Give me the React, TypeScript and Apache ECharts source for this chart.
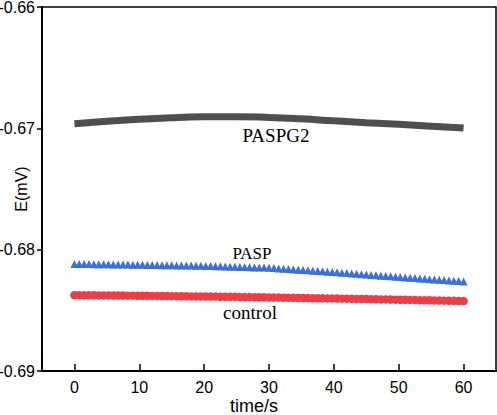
import React, { useEffect, useRef } from "react";
import * as echarts from "echarts";

const xTicks = [0, 10, 20, 30, 40, 50, 60];
const yTicks = [-0.69, -0.68, -0.67, -0.66];

// PASPG2 sampled every 5 s
const paspg2Times = [0, 5, 10, 15, 20, 25, 30, 35, 40, 45, 50, 55, 60];
const paspg2Values = [
  -0.66962, -0.66942, -0.66926, -0.66912, -0.66905, -0.66904, -0.6691,
  -0.66922, -0.66938, -0.66953, -0.66967, -0.66983, -0.66998,
];

// PASP and control sampled every 0.75 s (81 points)
const pasp = [
  -0.68118, -0.68118, -0.68119, -0.68119, -0.6812, -0.6812, -0.68121, -0.68121,
  -0.68122, -0.68122, -0.68123, -0.68123, -0.68124, -0.68125, -0.68125, -0.68126,
  -0.68126, -0.68127, -0.68128, -0.68128, -0.68129, -0.6813, -0.6813, -0.68131,
  -0.68131, -0.68132, -0.68133, -0.68134, -0.68135, -0.68136, -0.68137, -0.68138,
  -0.6814, -0.68141, -0.68142, -0.68143, -0.68144, -0.68146, -0.68147, -0.68148,
  -0.6815, -0.68152, -0.68155, -0.68157, -0.6816, -0.68163, -0.68165, -0.68168,
  -0.6817, -0.68173, -0.68176, -0.68178, -0.68181, -0.68184, -0.68187, -0.6819,
  -0.68193, -0.68196, -0.68199, -0.68202, -0.68205, -0.68208, -0.68211, -0.68214,
  -0.68217, -0.6822, -0.68223, -0.68226, -0.68229, -0.68232, -0.68234, -0.68237,
  -0.6824, -0.68243, -0.68245, -0.68248, -0.68251, -0.68254, -0.68256, -0.68259,
  -0.68262,
];
const control = [
  -0.68375, -0.68375, -0.68376, -0.68376, -0.68376, -0.68377, -0.68377, -0.68377,
  -0.68378, -0.68378, -0.68378, -0.68379, -0.68379, -0.6838, -0.6838, -0.6838,
  -0.68381, -0.68381, -0.68382, -0.68382, -0.68383, -0.68383, -0.68384, -0.68384,
  -0.68385, -0.68385, -0.68386, -0.68386, -0.68387, -0.68387, -0.68388, -0.68388,
  -0.68389, -0.68389, -0.6839, -0.68391, -0.68391, -0.68392, -0.68392, -0.68393,
  -0.68394, -0.68394, -0.68395, -0.68396, -0.68396, -0.68397, -0.68398, -0.68398,
  -0.68399, -0.684, -0.684, -0.68401, -0.68402, -0.68402, -0.68403, -0.68404,
  -0.68404, -0.68405, -0.68406, -0.68407, -0.68407, -0.68408, -0.68409, -0.6841,
  -0.6841, -0.68411, -0.68412, -0.68413, -0.68413, -0.68414, -0.68415, -0.68416,
  -0.68417, -0.68417, -0.68418, -0.68419, -0.6842, -0.68421, -0.68422, -0.68423,
  -0.68424,
];
const denseTimes = pasp.map((_, i) => i * 0.75);

const seriesLabels = ["PASPG2", "PASP", "control"];

export default function App() {
  const ref = useRef<HTMLDivElement>(null);
  useEffect(() => {
    if (!ref.current) return;
    const chart = echarts.init(ref.current, undefined, { renderer: "svg" });
    const axisFont = { fontFamily: "Liberation Sans, Arial", fontSize: 16, color: "#000" };
    const serif = "Liberation Serif, Times New Roman, serif";
    chart.setOption({
      animation: false,
      backgroundColor: "#fff",
      grid: {
        left: 42,
        right: 1,
        top: 7,
        bottom: 44,
        containLabel: false,
        outerBoundsMode: "none",
        show: true,
        borderColor: "#000",
        borderWidth: 1.5,
      },
      xAxis: {
        type: "value",
        min: -5,
        max: 65,
        name: "time/s",
        nameLocation: "middle",
        nameGap: 26,
        nameMoveOverlap: false,
        nameTextStyle: { ...axisFont, fontSize: 18, padding: [0, 30, 0, 0] },
        axisLine: { onZero: false, lineStyle: { color: "#000", width: 2 } },
        axisTick: {
          inside: true,
          length: 7,
          customValues: xTicks,
          lineStyle: { color: "#000", width: 1.5 },
        },
        axisLabel: { ...axisFont, margin: 8, customValues: xTicks },
        splitLine: { show: false },
      },
      yAxis: {
        type: "value",
        min: -0.69,
        max: -0.66,
        name: "E(mV)",
        nameLocation: "middle",
        nameRotate: 90,
        nameGap: 13,
        nameMoveOverlap: false,
        nameTextStyle: axisFont,
        axisLine: { onZero: false, lineStyle: { color: "#000", width: 2 } },
        axisTick: {
          inside: false,
          length: 5,
          customValues: yTicks,
          lineStyle: { color: "#000", width: 1.5 },
        },
        axisLabel: {
          ...axisFont,
          margin: 7,
          customValues: yTicks,
          formatter: (v: number) => v.toFixed(2),
        },
        splitLine: { show: false },
      },
      series: [
        {
          name: seriesLabels[0],
          type: "line",
          smooth: true,
          showSymbol: false,
          data: paspg2Times.map((t, i) => [t, paspg2Values[i]]),
          lineStyle: { color: "#4f4f4f", width: 7, cap: "butt" },
          itemStyle: { color: "#4f4f4f" },
        },
        {
          name: seriesLabels[1],
          type: "line",
          symbol: "triangle",
          symbolSize: 8,
          showSymbol: true,
          showAllSymbol: true,
          data: denseTimes.map((t, i) => [t, pasp[i]]),
          lineStyle: { width: 0 },
          itemStyle: { color: "#3b6fde" },
        },
        {
          name: seriesLabels[2],
          type: "line",
          symbol: "circle",
          symbolSize: 8.5,
          showSymbol: true,
          showAllSymbol: true,
          data: denseTimes.map((t, i) => [t, control[i]]),
          lineStyle: { width: 0 },
          itemStyle: { color: "#ef3d47" },
        },
      ],
      graphic: [
        {
          type: "text",
          x: 276,
          y: 135,
          style: {
            text: seriesLabels[0],
            fontFamily: serif,
            fontSize: 19,
            fill: "#000",
            align: "center",
            verticalAlign: "middle",
          },
        },
        {
          type: "text",
          x: 252,
          y: 253,
          style: {
            text: seriesLabels[1],
            fontFamily: serif,
            fontSize: 17,
            fill: "#000",
            align: "center",
            verticalAlign: "middle",
          },
        },
        {
          type: "text",
          x: 250,
          y: 312,
          style: {
            text: seriesLabels[2],
            fontFamily: serif,
            fontSize: 19,
            fill: "#000",
            align: "center",
            verticalAlign: "middle",
          },
        },
      ],
    });
    return () => chart.dispose();
  }, []);
  return (
    <div
      ref={ref}
      style={{ position: "fixed", left: 0, top: 0, width: 497, height: 415 }}
    />
  );
}
